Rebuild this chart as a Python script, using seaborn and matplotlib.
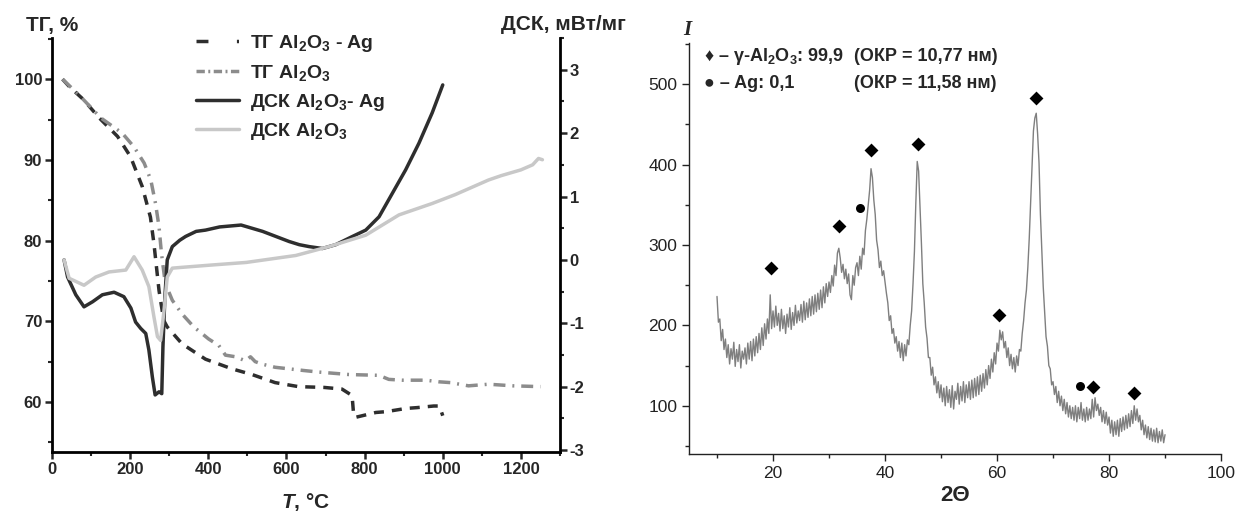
import numpy as np
import matplotlib
matplotlib.use("Agg")
import matplotlib.pyplot as plt
import seaborn as sns
from matplotlib.lines import Line2D
from matplotlib.ticker import MultipleLocator

# ---------------- data: thermal analysis (left) ----------------
tg_ag_T = [27, 44, 80, 121, 168, 201, 231, 252, 261, 274, 286, 295, 333, 393, 461, 512, 571, 631, 697,
           742, 768, 772, 777, 829, 855, 906, 934, 977, 990, 995, 1000]
tg_ag = [100, 99.1, 97.5, 95.2, 92.9, 90.4, 86.7, 82.9, 79.6, 73.8, 70.1, 69.3, 67.2, 65.3, 64.1, 63.4, 62.4,
         61.9, 61.8, 61.6, 60.8, 58.4, 58.1, 58.7, 58.8, 59.2, 59.3, 59.5, 59.5, 59.0, 58.3]

tg_al_T = [27, 70, 125, 180, 210, 236, 253, 265, 274, 280, 290, 308, 333, 363, 401, 427, 444, 470, 495, 508,
           520, 537, 571, 644, 684, 735, 760, 837, 862, 896, 957, 990, 1020, 1066, 1117, 1180, 1250]
tg_al = [100, 98.0, 95.2, 93.3, 91.6, 89.6, 87.5, 84.6, 81.7, 78.5, 74.7, 72.6, 70.9, 69.3, 67.8, 67.0, 65.8,
         65.6, 65.1, 65.6, 65.0, 64.7, 64.3, 63.9, 63.7, 63.5, 63.4, 63.3, 62.8, 62.7, 62.7, 62.5, 62.4, 62.0,
         62.2, 62.0, 61.9]

dsc_ag_T = [31, 40, 61, 82, 104, 129, 159, 184, 202, 214, 227, 240, 248, 257, 264, 274, 281, 284, 289, 295,
            308, 327, 342, 369, 393, 429, 484, 539, 607, 633, 658, 692, 726, 769, 803, 837, 871, 905, 939, 973, 1000]
dsc_ag = [0.0, -0.27, -0.55, -0.74, -0.66, -0.55, -0.51, -0.58, -0.76, -0.98, -1.08, -1.16, -1.42, -1.85, -2.13,
          -2.08, -2.11, -1.37, -0.58, 0.0, 0.21, 0.31, 0.37, 0.45, 0.47, 0.52, 0.55, 0.45, 0.29, 0.24, 0.21, 0.18,
          0.24, 0.37, 0.47, 0.68, 1.05, 1.42, 1.84, 2.32, 2.76]

dsc_al_T = [31, 44, 82, 112, 146, 189, 210, 231, 248, 261, 270, 278, 286, 295, 308, 327, 410, 497, 624, 709,
            803, 888, 973, 1032, 1117, 1150, 1200, 1230, 1245, 1255]
dsc_al = [0.0, -0.29, -0.40, -0.27, -0.19, -0.16, 0.05, -0.16, -0.42, -0.90, -1.21, -1.27, -0.84, -0.27, -0.13,
          -0.12, -0.08, -0.04, 0.07, 0.21, 0.39, 0.71, 0.89, 1.03, 1.26, 1.33, 1.42, 1.50, 1.60, 1.58]

legend_labels = [r"ТГ Al$_\mathbf{2}$O$_\mathbf{3}$ - Ag",
                 r"ТГ Al$_\mathbf{2}$O$_\mathbf{3}$",
                 r"ДСК Al$_\mathbf{2}$O$_\mathbf{3}$- Ag",
                 r"ДСК Al$_\mathbf{2}$O$_\mathbf{3}$"]

# ---------------- data: XRD (right), 10..90 deg, step 0.25 ----------------
xrd_intensity = [
    236, 204, 208, 181, 195, 170, 183, 160, 176, 152, 171, 158, 179, 149, 170, 155, 176, 147, 168, 158,
    172, 152, 178, 158, 180, 156, 183, 162, 186, 166, 190, 170, 197, 175, 202, 183, 208, 190, 238, 196,
    218, 198, 224, 200, 215, 193, 220, 196, 212, 190, 214, 198, 222, 195, 216, 200, 225, 203, 218, 206,
    226, 204, 230, 207, 228, 210, 233, 212, 236, 214, 238, 217, 240, 220, 244, 222, 248, 228, 252, 236,
    254, 241, 262, 249, 275, 262, 290, 296, 284, 266, 276, 258, 270, 252, 264, 238, 232, 262, 250, 272,
    278, 262, 286, 270, 296, 288, 318, 332, 350, 368, 395, 384, 356, 338, 306, 294, 272, 280, 262, 268,
    254, 240, 228, 206, 212, 190, 196, 178, 186, 168, 180, 160, 178, 156, 176, 162, 182, 176, 200, 218,
    252, 292, 352, 404, 392, 348, 302, 252, 228, 198, 184, 160, 160, 138, 148, 126, 136, 116, 130, 110,
    126, 105, 122, 100, 124, 104, 120, 98, 125, 96, 118, 108, 128, 102, 124, 106, 130, 104, 126, 110,
    130, 108, 132, 110, 134, 112, 136, 114, 138, 118, 140, 122, 145, 126, 150, 134, 158, 142, 166, 152,
    178, 168, 194, 182, 192, 172, 180, 160, 172, 150, 164, 146, 160, 142, 162, 150, 170, 168, 190, 206,
    228, 244, 272, 308, 352, 398, 442, 458, 464, 438, 402, 338, 292, 248, 218, 186, 174, 150, 146, 126,
    130, 114, 124, 104, 118, 100, 112, 94, 108, 90, 104, 86, 100, 84, 98, 82, 100, 80, 98, 84,
    104, 82, 96, 80, 98, 82, 96, 84, 108, 86, 110, 94, 102, 88, 98, 80, 94, 78, 92, 76,
    86, 66, 82, 62, 80, 64, 82, 62, 84, 68, 86, 70, 88, 72, 90, 74, 94, 78, 100, 82,
    96, 80, 88, 70, 82, 64, 76, 60, 74, 58, 72, 56, 70, 55, 72, 54, 68, 56, 70, 54,
    64]
xrd_start, xrd_end = 10, 90

al2o3_peak_x = [19.7, 31.7, 37.5, 45.8, 60.4, 67.0, 77.2, 84.4]
al2o3_peak_y = [272, 324, 418, 426, 213, 483, 123, 116]
ag_peak_x = [35.5, 74.8]
ag_peak_y = [346, 125]

xrd_line1 = ["♦ – γ-Al$_\\mathbf{2}$O$_\\mathbf{3}$: 99,9", "(ОКР = 10,77 нм)"]
xrd_line2 = ["● – Ag: 0,1", "(ОКР = 11,58 нм)"]

# ---------------- style ----------------
sns.set_style("ticks")
plt.rcParams['font.family'] = ['Liberation Sans', 'DejaVu Sans']
plt.rcParams['mathtext.fontset'] = 'custom'
plt.rcParams['mathtext.rm'] = 'Liberation Sans'
plt.rcParams['mathtext.bf'] = 'Liberation Sans:bold'
plt.rcParams['mathtext.it'] = 'Liberation Sans:italic:bold'
plt.rcParams['lines.scale_dashes'] = False
plt.rcParams['axes.unicode_minus'] = False

C_AG = '#2e2e2e'
C_AL = '#8c8c8c'
C_DSC_AL = '#c8c8c8'
C_XRD = '#7f7f7f'

fig = plt.figure(figsize=(12.37, 5.17), dpi=100)
ax1 = fig.add_axes([0.042, 0.1257, 0.4107, 0.8008])
ax2 = ax1.twinx()
ax3 = fig.add_axes([0.557, 0.1219, 0.4301, 0.7943])

# ---- left panel ----
sns.lineplot(x=tg_ag_T, y=tg_ag, ax=ax1, color=C_AG, lw=2.5, estimator=None, sort=False)
ax1.lines[-1].set_dashes([7.2, 5.8])
sns.lineplot(x=tg_al_T, y=tg_al, ax=ax1, color=C_AL, lw=2.5, estimator=None, sort=False)
ax1.lines[-1].set_dashes([8.6, 5, 1.4, 5])
sns.lineplot(x=dsc_ag_T, y=dsc_ag, ax=ax2, color=C_AG, lw=2.5, estimator=None, sort=False)
sns.lineplot(x=dsc_al_T, y=dsc_al, ax=ax2, color=C_DSC_AL, lw=2.5, estimator=None, sort=False)

ax1.set_xlim(0, 1300)
ax1.set_ylim(53.8, 105.1)
ax2.set_ylim(-3.03, 3.5)
ax1.xaxis.set_major_locator(MultipleLocator(200))
ax1.xaxis.set_minor_locator(MultipleLocator(100))
ax1.yaxis.set_major_locator(MultipleLocator(10))
ax1.yaxis.set_minor_locator(MultipleLocator(5))
ax2.yaxis.set_major_locator(MultipleLocator(1))
ax2.yaxis.set_minor_locator(MultipleLocator(0.5))

for a in (ax1, ax2):
    a.spines['top'].set_visible(False)
    for s in a.spines.values():
        s.set_linewidth(2.0)
        s.set_color('black')
    a.tick_params(which='major', direction='out', length=5, width=1.8, labelsize=12, pad=2)
    a.tick_params(which='minor', direction='out', length=3, width=1.5)
    a.set_ylabel('')
    for lab in a.get_xticklabels() + a.get_yticklabels():
        lab.set_fontweight('bold')
ax1.spines['right'].set_visible(False)
ax2.spines['left'].set_visible(False)
ax2.spines['bottom'].set_visible(False)

ax1.set_xlabel(r'$\mathit{T}$, °C', fontsize=15, fontweight='bold', labelpad=10)
fig.text(52.5 / 1237, 1 - 25 / 517, 'ТГ, %', fontsize=15, fontweight='bold', ha='center', va='center')
fig.text(563 / 1237, 1 - 25 / 517, 'ДСК, мВт/мг', fontsize=15, fontweight='bold', ha='center', va='center')

handles = [Line2D([], [], color=C_AG, lw=2.5, dashes=[8.6, 20.5, 1.5, 20]),
           Line2D([], [], color=C_AL, lw=2.5, dashes=[6, 2.5, 1.4, 2.5]),
           Line2D([], [], color=C_AG, lw=2.5),
           Line2D([], [], color=C_DSC_AL, lw=2.5)]
ax2.legend(handles, legend_labels, loc='upper left', bbox_to_anchor=(0.2835, 1.012), frameon=False,
           prop={'weight': 'bold', 'size': 14}, handlelength=2.2, handletextpad=0.57,
           labelspacing=0.45, borderaxespad=0, borderpad=0)

# ---- right panel ----
two_theta = np.linspace(xrd_start, xrd_end, len(xrd_intensity))
sns.lineplot(x=two_theta, y=xrd_intensity, ax=ax3, color=C_XRD, lw=1.0, estimator=None, sort=False)
sns.scatterplot(x=al2o3_peak_x, y=al2o3_peak_y, ax=ax3, marker='D', s=50, color='black', edgecolor='black',
                linewidth=0, zorder=5)
sns.scatterplot(x=ag_peak_x, y=ag_peak_y, ax=ax3, marker='o', s=42, color='black', edgecolor='black',
                linewidth=0, zorder=5)

ax3.set_xlim(5, 100)
ax3.set_ylim(40, 551)
ax3.xaxis.set_major_locator(MultipleLocator(20))
ax3.xaxis.set_minor_locator(MultipleLocator(10))
ax3.yaxis.set_major_locator(MultipleLocator(100))
ax3.yaxis.set_minor_locator(MultipleLocator(50))
ax3.spines['top'].set_visible(False)
ax3.spines['right'].set_visible(False)
for s in ('left', 'bottom'):
    ax3.spines[s].set_linewidth(1.0)
    ax3.spines[s].set_color('#222222')
ax3.tick_params(which='major', direction='out', length=5, width=1.0, labelsize=12.5, colors='#222222')
ax3.tick_params(which='minor', direction='out', length=3, width=1.0, colors='#222222')
ax3.set_xlabel('2Θ', fontsize=16, fontweight='bold', labelpad=3)
ax3.set_ylabel('')
fig.text(687 / 1237, 1 - 30 / 517, 'I', family='Liberation Serif', style='italic', fontweight='bold',
         fontsize=15, ha='center', va='center')

for yy, (left_txt, right_txt) in zip((0.967, 0.901), (xrd_line1, xrd_line2)):
    ax3.text(0.028, yy, left_txt, transform=ax3.transAxes, fontsize=13, fontweight='bold',
             ha='left', va='center', family=['Liberation Sans', 'DejaVu Sans'])
    ax3.text(0.311, yy, right_txt, transform=ax3.transAxes, fontsize=13, fontweight='bold',
             ha='left', va='center')

fig.savefig('out.png', dpi=100)
